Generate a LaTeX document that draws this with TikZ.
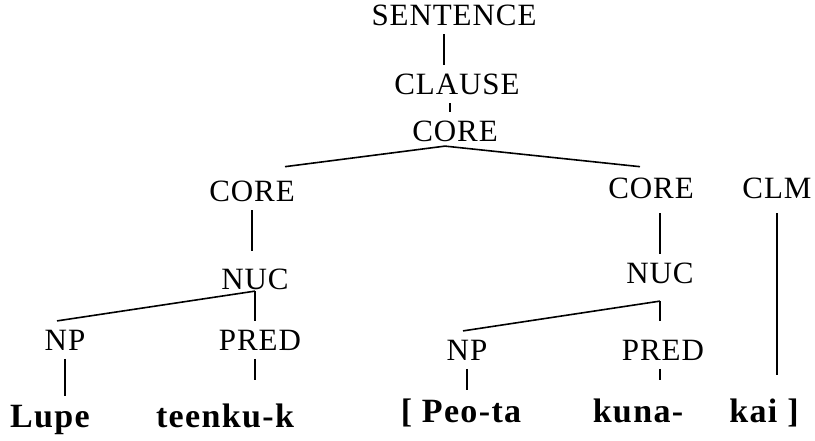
\documentclass[tikz,border=0pt]{standalone}
\usepackage{fontspec}
\setmainfont{Liberation Serif}
\newfontfamily\labfont[LetterSpace=3]{Liberation Serif}
\newfontfamily\wordfont[LetterSpace=4]{Liberation Serif}

\begin{document}
\begin{tikzpicture}[x=1pt,y=-1pt,line width=1.6pt,
  lab/.style={anchor=base,inner xsep=1pt,inner ysep=8pt,font=\fontsize{31}{36}\labfont},
  word/.style={anchor=base,inner xsep=1pt,inner ysep=8pt,font=\fontsize{34}{40}\wordfont\bfseries}]
\useasboundingbox (0,0) rectangle (815,440);

% layers of the tree
\node[lab] (sent) at (454,25) {SENTENCE};
\node[lab] (clause) at (457,94) {CLAUSE};
\node[lab] (coreT) at (455,141) {CORE};

\node[lab] (coreL) at (252,201) {CORE};
\node[lab] (coreR) at (651,198) {CORE};
\node[lab] (clm) at (777,198) {CLM};

\node[lab] (nucL) at (255,289) {NUC};
\node[lab] (nucR) at (660,283) {NUC};

\node[lab] (npL) at (65,350) {NP};
\node[lab] (predL) at (260,350) {PRED};
\node[lab] (npR) at (467,360) {NP};
\node[lab] (predR) at (663,360) {PRED};

% the words
\node[word] (lupe) at (50,427) {Lupe};
\node[word] (teenku) at (225,427) {teenku-k};
\node[word] (peota) at (461,422) {[ Peo-ta};
\node[word] (kuna) at (638,422) {kuna-};
\node[word] (kai) at (764,422) {kai ]};

% branches
\draw ([xshift=-10pt]sent.south) -- ([xshift=-13pt]clause.north);
\draw ([xshift=-7pt]clause.south) -- ([xshift=-5pt]coreT.north);
\draw ([xshift=33pt,yshift=5pt]coreL.north) -- ([xshift=-10pt,yshift=4pt]coreT.south)
  -- ([xshift=-11pt,yshift=2pt]coreR.north);

% left core
\draw (coreL.south) -- ([yshift=9pt]coreL.south |- nucL.north);
\draw ([yshift=7pt]nucL.south) -- ([xshift=-8pt]npL.north);
\draw ([yshift=7pt]nucL.south) -- (nucL.south |- predL.north);
\draw (npL.south) -- (npL.south |- lupe.north);
\draw (predL.south -| nucL.south) -- ([yshift=15pt]nucL.south |- teenku.north);

% right core
\draw ([yshift=-6pt]coreR.south -| nucR.north) -- (nucR.north);
\draw ([yshift=-9pt]nucR.south) -- ([xshift=-4pt]npR.north);
\draw ([yshift=-9pt]nucR.south) -- ([yshift=10pt]nucR.south |- predR.north);
\draw (npR.south) -- (npR.south |- peota.north);
\draw (predR.south -| nucR.south) -- ([yshift=10pt]nucR.south |- kuna.north);

% clause linkage marker
\draw ([yshift=-6pt]clm.south) -- ([yshift=15pt]clm.south |- kai.north);
\end{tikzpicture}
\end{document}
